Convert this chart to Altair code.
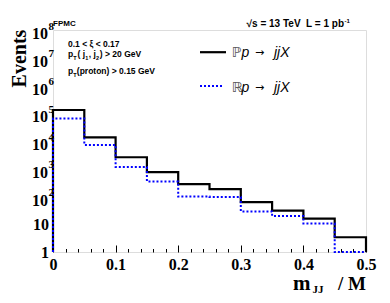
import altair as alt
import pandas as pd

# ---------------- data ----------------
bin_edges = [0.0, 0.05, 0.10, 0.15, 0.20, 0.25, 0.30, 0.35, 0.40, 0.45, 0.50]
pomeron_events = [1.31e5, 1.35e4, 2.6e3, 7.5e2, 2.8e2, 1.85e2, 63, 31, 16, 3.4]
reggeon_events = [6.5e4, 7.2e3, 1.15e3, 3.5e2, 1.0e2, 95, 29, 20, 10.7, 1.0]

x_major = [0.0, 0.1, 0.2, 0.3, 0.4, 0.5]
x_minor = [0.02, 0.04, 0.06, 0.08, 0.12, 0.14, 0.16, 0.18, 0.22, 0.24, 0.26, 0.28,
           0.32, 0.34, 0.36, 0.38, 0.42, 0.44, 0.46, 0.48]
y_decades = [1, 10, 1e2, 1e3, 1e4, 1e5, 1e6, 1e7, 1e8]
y_base_text = ["1", "10", "10", "10", "10", "10", "10", "10", "10"]
y_exp_text = ["", "", "2", "3", "4", "5", "6", "7", "8"]
y_minor = [m * 10 ** e for e in range(8) for m in range(2, 10)]

W, H = 313, 222


def step_table(vals):
    rows = [{"x": bin_edges[0], "y": 1.0, "i": 0}]
    k = 1
    for j, v in enumerate(vals):
        rows.append({"x": bin_edges[j], "y": v, "i": k}); k += 1
        rows.append({"x": bin_edges[j + 1], "y": v, "i": k}); k += 1
    rows.append({"x": bin_edges[-1], "y": 1.0, "i": k})
    return pd.DataFrame(rows)


df_p = step_table(pomeron_events)
df_r = step_table(reggeon_events)
ylab = pd.DataFrame({"v": y_decades, "base": y_base_text, "exp": y_exp_text})

xs = alt.Scale(domain=[0, 0.5], nice=False, zero=False)
ys = alt.Scale(type="log", domain=[1, 1e8], nice=False)

axis_bottom = alt.Axis(orient="bottom", values=x_major, ticks=False, domain=False, grid=False,
                       labelExpr="datum.value == 0 ? '0' : format(datum.value, '.1f')",
                       labelFont="Liberation Serif", labelFontWeight="bold", labelFontSize=16,
                       labelColor="black", labelPadding=4, labelFlush=False, title=None)
axis_xmaj = alt.Axis(orient="top", offset=-H, values=x_major, labels=False, domain=False, grid=False,
                     tickSize=7, tickColor="black", tickWidth=1, title=None)
axis_xmin = alt.Axis(orient="top", offset=-H, values=x_minor, labels=False, domain=False, grid=False,
                     tickSize=3.5, tickColor="black", tickWidth=1, title=None)
axis_ymaj = alt.Axis(orient="right", offset=-W, values=y_decades, labels=False, domain=False, grid=False,
                     tickSize=7, tickColor="black", tickWidth=1, title=None)
axis_ymin = alt.Axis(orient="right", offset=-W, values=y_minor, labels=False, domain=False, grid=False,
                     tickSize=3.5, tickColor="black", tickWidth=1, title=None)

black = alt.Chart(df_p).mark_line(color="black", strokeWidth=2.2).encode(
    x=alt.X("x:Q", scale=xs, axis=axis_bottom),
    y=alt.Y("y:Q", scale=ys, axis=None),
    order="i:Q",
)
blue = alt.Chart(df_r).mark_line(color="#0000ff", strokeWidth=2, strokeDash=[2, 2]).encode(
    x=alt.X("x:Q", scale=xs, axis=axis_xmaj),
    y=alt.Y("y:Q", scale=ys, axis=axis_ymaj),
    order="i:Q",
)
minor = alt.Chart(df_p).mark_point(opacity=0).encode(
    x=alt.X("x:Q", scale=xs, axis=axis_xmin),
    y=alt.Y("y:Q", scale=ys, axis=axis_ymin),
)

serif = dict(font="Liberation Serif", fontWeight="bold", color="black")
ylab_simple = alt.Chart(ylab).transform_filter("datum.exp == ''").mark_text(
    align="right", baseline="middle", fontSize=16, dy=1, **serif).encode(
    x=alt.value(-4), y=alt.Y("v:Q", scale=ys, axis=None), text="base:N")
ylab_pow = alt.Chart(ylab).transform_filter("datum.exp != ''").mark_text(
    align="right", baseline="middle", fontSize=16, dy=4, **serif).encode(
    x=alt.value(-5), y=alt.Y("v:Q", scale=ys, axis=None), text="base:N")
ylab_exp = alt.Chart(ylab).transform_filter("datum.exp != ''").mark_text(
    align="left", baseline="middle", fontSize=11, dy=-3.5, **serif).encode(
    x=alt.value(-4.5), y=alt.Y("v:Q", scale=ys, axis=None), text="exp:N")


def label(text, x, y, size, font="Liberation Sans", weight="bold", style="normal",
          align="left", baseline="alphabetic", color="black", angle=0):
    return alt.Chart(alt.Data(values=[{"t": text}])).mark_text(
        font=font, fontWeight=weight, fontStyle=style, fontSize=size, align=align,
        baseline=baseline, color=color, angle=angle).encode(
        x=alt.value(x), y=alt.value(y), text="t:N")


def legend_line(x1, x2, y, color, width, dash=None):
    kw = dict(color=color, strokeWidth=width)
    if dash:
        kw["strokeDash"] = dash
    return alt.Chart(alt.Data(values=[{}])).mark_rule(**kw).encode(
        x=alt.value(x1), x2=alt.value(x2), y=alt.value(y))


NB = "\u00a0"
annot = [
    label("Events", -33.5, 28.5, 20, font="Liberation Serif", align="center", baseline="middle", angle=270),
    label("m", 240, 260, 21, font="Liberation Serif"),
    label("JJ", 259.5, 262.5, 11, font="Liberation Serif"),
    label("/" + NB + "M", 313, 260, 19, font="Liberation Serif", align="right"),
    label("FPMC", 0, -4, 8),
    label("\u221as = 13 TeV" + NB + NB + "L = 1 pb", 291, -3, 10, align="right"),
    label("-1", 291.5, -7, 6),
    label("0.1 < \u03be < 0.17", 15, 17, 8.5),
    label("p", 15, 27, 8.5),
    label("T", 20.2, 29.5, 5.5),
    label("(" + NB + "j", 24.5, 27, 8.5),
    label("1", 32.3, 29.5, 5.5),
    label("," + NB + "j", 35.8, 27, 8.5),
    label("2", 43.1, 29.5, 5.5),
    label(")" + NB + "> 20 GeV", 46.8, 27, 8.5),
    label("p", 15, 44, 8.5),
    label("T", 20.2, 46.5, 5.5),
    label("(proton) > 0.15 GeV", 23.8, 44, 8.5),
    legend_line(147, 173, 22.2, "black", 2.2),
    label("\u2119", 178.7, 27, 14, font="DejaVu Sans", weight="normal", color="#555555"),
    label("p", 188.5, 27, 14, style="italic", weight="normal"),
    label("\u2192", 202, 26, 11, font="DejaVu Sans", weight="normal"),
    label("jjX", 221, 27, 14, style="italic", weight="normal"),
    legend_line(147, 171, 56, "#0000ff", 2, [2, 2]),
    label("\u211d", 178.7, 61.5, 14, font="DejaVu Sans", weight="normal", color="#555555"),
    label("p", 188.5, 61.5, 14, style="italic", weight="normal"),
    label("\u2192", 202, 60.5, 11, font="DejaVu Sans", weight="normal"),
    label("jjX", 221, 61.5, 14, style="italic", weight="normal"),
]

chart = alt.layer(minor, black, blue, ylab_simple, ylab_pow, ylab_exp, *annot).properties(
    width=W, height=H,
    autosize=alt.AutoSizeParams(type="none"),
    padding={"left": 45, "top": 22, "right": 16, "bottom": 50},
).configure_view(stroke="black", strokeWidth=2).configure(background="white")

chart.save("out.html", embed_options={"renderer": "svg", "actions": False})
